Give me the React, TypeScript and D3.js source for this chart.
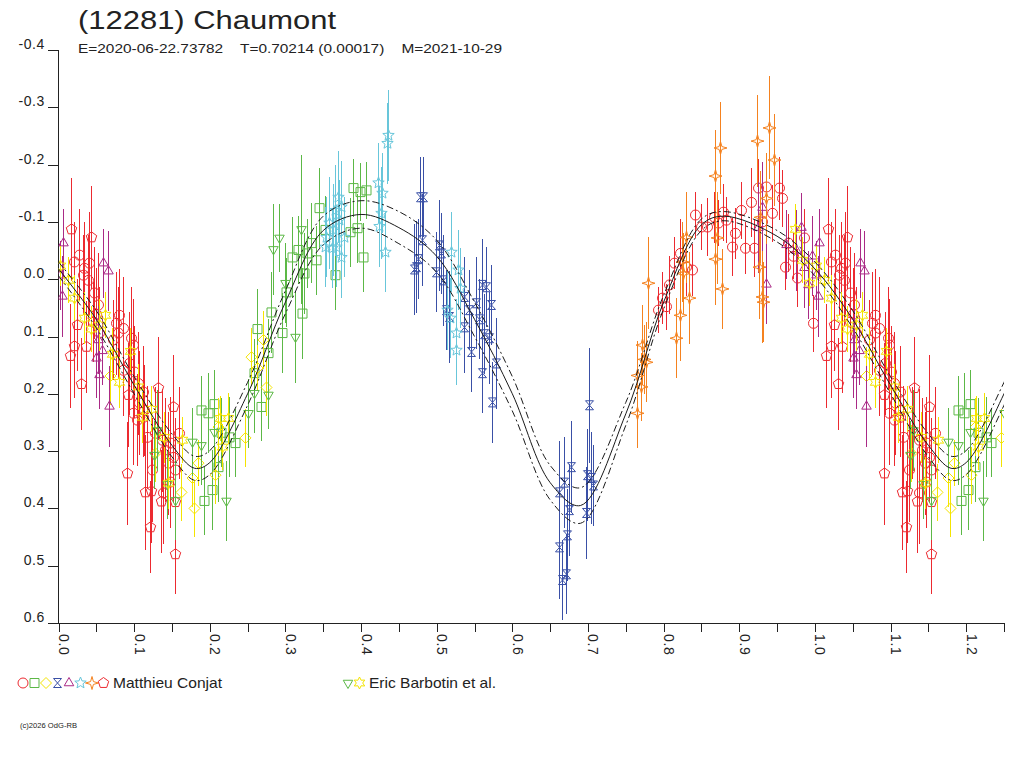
import React, { useEffect, useRef } from "react";
import * as d3 from "d3";

// [phase, reduced magnitude, error]
type Obs = [number, number, number];

const redCircles: Obs[] = [
  [0.792, 0.054, 0.04], [0.798, 0.033, 0.045], [0.803, 0.048, 0.04], [0.807, 0.01, 0.05],
  [0.814, -0.028, 0.045], [0.822, -0.045, 0.06], [0.829, -0.021, 0.05], [0.837, -0.016, 0.045],
  [0.842, -0.112, 0.04], [0.849, -0.091, 0.04], [0.857, -0.091, 0.05], [0.866, -0.108, 0.045],
  [0.872, -0.098, 0.04], [0.879, -0.117, 0.05], [0.883, -0.103, 0.04], [0.89, -0.056, 0.05],
  [0.895, -0.08, 0.045], [0.902, -0.12, 0.05], [0.908, -0.054, 0.045], [0.915, -0.134, 0.06],
  [0.919, -0.054, 0.05], [0.925, -0.159, 0.05], [0.93, -0.1, 0.04], [0.936, -0.161, 0.05],
  [0.943, -0.115, 0.05], [0.952, -0.159, 0.055], [0.956, -0.141, 0.05], [0.961, -0.021, 0.04],
  [0.965, -0.063, 0.05], [0.971, -0.04, 0.04], [0.976, -0.002, 0.05], [0.985, -0.072, 0.05],
  [0.998, 0.077, 0.05],
  [0.021, -0.03, 0.07], [0.027, -0.042, 0.08], [0.032, -0.007, 0.07], [0.034, -0.019, 0.08],
  [0.04, -0.028, 0.09], [0.039, 0.002, 0.08], [0.047, 0.024, 0.08], [0.052, 0.045, 0.09],
  [0.05, 0.061, 0.08], [0.046, 0.075, 0.07], [0.054, 0.094, 0.08], [0.076, 0.077, 0.09],
  [0.08, 0.063, 0.08], [0.085, 0.086, 0.09], [0.079, 0.094, 0.08], [0.072, 0.106, 0.07],
  [0.096, 0.103, 0.09], [0.098, 0.115, 0.08], [0.085, 0.159, 0.08], [0.093, 0.147, 0.09],
  [0.1, 0.162, 0.08], [0.105, 0.182, 0.09], [0.112, 0.197, 0.08], [0.106, 0.216, 0.09],
  [0.113, 0.229, 0.08], [0.098, 0.234, 0.09], [0.104, 0.246, 0.08], [0.112, 0.241, 0.07],
  [0.117, 0.276, 0.09], [0.128, 0.269, 0.08], [0.137, 0.281, 0.09], [0.147, 0.286, 0.08],
  [0.141, 0.298, 0.09], [0.151, 0.311, 0.08], [0.145, 0.321, 0.09], [0.159, 0.269, 0.08],
  [0.138, 0.373, 0.09], [0.147, 0.354, 0.08], [0.154, 0.333, 0.09], [0.124, 0.333, 0.09],
];

const greenSquares: Obs[] = [
  [0.189, 0.229, 0.06], [0.197, 0.234, 0.07], [0.205, 0.218, 0.06], [0.215, 0.268, 0.06],
  [0.226, 0.276, 0.07], [0.233, 0.286, 0.06], [0.211, 0.328, 0.06], [0.203, 0.368, 0.07],
  [0.193, 0.387, 0.06], [0.259, 0.164, 0.06], [0.263, 0.087, 0.07], [0.268, 0.223, 0.06],
  [0.277, 0.129, 0.06], [0.281, 0.058, 0.07], [0.296, 0.094, 0.07], [0.301, 0.023, 0.06],
  [0.309, -0.038, 0.07], [0.316, -0.051, 0.06], [0.322, 0.06, 0.08], [0.325, -0.01, 0.07],
  [0.329, -0.045, 0.06], [0.334, -0.063, 0.07], [0.341, -0.033, 0.06], [0.344, -0.124, 0.07],
  [0.352, -0.086, 0.06], [0.366, -0.007, 0.06], [0.385, -0.082, 0.06], [0.389, -0.159, 0.05],
  [0.398, -0.152, 0.05], [0.406, -0.155, 0.05], [0.394, -0.089, 0.06], [0.402, -0.038, 0.06],
];

const yellowDiamonds: Obs[] = [
  [0.068, 0.169, 0.05], [0.127, 0.304, 0.05], [0.162, 0.372, 0.05], [0.176, 0.347, 0.05],
  [0.179, 0.4, 0.05], [0.184, 0.321, 0.04], [0.207, 0.342, 0.05], [0.211, 0.258, 0.05],
  [0.246, 0.277, 0.05], [0.255, 0.136, 0.05], [0.27, 0.106, 0.05], [0.274, 0.189, 0.05],
  [0.262, 0.155, 0.04],
];

const blueHourglasses: Obs[] = [
  [0.47, -0.017, 0.08], [0.473, -0.021, 0.08], [0.475, -0.035, 0.07], [0.478, -0.143, 0.07],
  [0.482, -0.143, 0.07], [0.481, -0.068, 0.08], [0.499, -0.012, 0.07], [0.503, -0.059, 0.08],
  [0.506, -0.045, 0.07], [0.508, 0.002, 0.08], [0.512, 0.054, 0.07], [0.516, 0.066, 0.08],
  [0.536, 0.031, 0.07], [0.536, 0.084, 0.08], [0.543, 0.054, 0.07], [0.546, 0.127, 0.07],
  [0.552, 0.042, 0.08], [0.556, 0.07, 0.07], [0.56, 0.01, 0.08], [0.563, 0.096, 0.07],
  [0.565, 0.014, 0.07], [0.569, 0.103, 0.08], [0.572, 0.045, 0.07], [0.56, 0.164, 0.07],
  [0.578, 0.147, 0.08], [0.573, 0.215, 0.07], [0.662, 0.372, 0.09], [0.668, 0.355, 0.08],
  [0.677, 0.328, 0.08], [0.675, 0.403, 0.08], [0.672, 0.447, 0.08], [0.662, 0.468, 0.09],
  [0.666, 0.525, 0.07], [0.671, 0.515, 0.07], [0.699, 0.342, 0.08], [0.704, 0.347, 0.08],
  [0.706, 0.36, 0.07], [0.697, 0.408, 0.08], [0.701, 0.22, 0.1],
];

const purpleTriangles: Obs[] = [
  [0.925, -0.09, 0.08], [0.93, -0.125, 0.08], [0.936, 0.009, 0.07], [0.962, -0.06, 0.06],
  [0.975, -0.05, 0.07], [0.982, -0.09, 0.06], [0.986, -0.02, 0.07], [0.991, 0.01, 0.06],
  [0.996, -0.04, 0.07], [0.006, -0.063, 0.06], [0.002, -0.007, 0.06], [0.004, 0.03, 0.07],
  [0.059, -0.028, 0.06], [0.065, -0.014, 0.07], [0.05, 0.138, 0.07], [0.054, 0.167, 0.06],
  [0.067, 0.222, 0.07], [0.052, 0.106, 0.06], [0.058, 0.125, 0.06],
];

const cyanStars: Obs[] = [
  [0.352, -0.056, 0.07], [0.354, -0.073, 0.07], [0.358, -0.098, 0.08], [0.361, -0.054, 0.07],
  [0.363, -0.086, 0.08], [0.365, -0.12, 0.08], [0.367, -0.056, 0.07], [0.369, -0.143, 0.08],
  [0.371, -0.103, 0.07], [0.374, -0.126, 0.08], [0.374, -0.038, 0.07], [0.378, -0.073, 0.07],
  [0.423, -0.168, 0.07], [0.428, -0.15, 0.07], [0.427, -0.115, 0.08], [0.424, -0.092, 0.07],
  [0.431, -0.047, 0.07], [0.435, -0.251, 0.08], [0.434, -0.237, 0.07], [0.519, -0.047, 0.07],
  [0.528, -0.016, 0.07], [0.531, 0.016, 0.07], [0.514, 0.054, 0.07], [0.517, 0.068, 0.07],
  [0.526, 0.094, 0.06], [0.525, 0.124, 0.06],
];

const orangeStars: Obs[] = [
  [0.765, 0.168, 0.06], [0.77, 0.188, 0.06], [0.772, 0.115, 0.07], [0.774, 0.14, 0.06],
  [0.777, 0.145, 0.07], [0.765, 0.234, 0.06], [0.78, 0.007, 0.08], [0.817, 0.103, 0.07],
  [0.822, 0.063, 0.08], [0.824, -0.03, 0.07], [0.826, -0.01, 0.07], [0.829, -0.073, 0.08],
  [0.833, 0.033, 0.08], [0.868, -0.18, 0.08], [0.875, -0.229, 0.08], [0.87, -0.072, 0.08],
  [0.868, -0.035, 0.08], [0.877, 0.017, 0.07], [0.923, -0.241, 0.08], [0.939, -0.264, 0.09],
  [0.946, -0.208, 0.08], [0.935, -0.141, 0.08], [0.928, -0.108, 0.08], [0.926, -0.021, 0.09],
  [0.93, 0.031, 0.08], [0.932, 0.04, 0.07],
];

const redPentagons: Obs[] = [
  [0.017, -0.087, 0.09], [0.043, -0.073, 0.09], [0.025, 0.08, 0.08], [0.021, 0.117, 0.09],
  [0.036, 0.118, 0.08], [0.015, 0.134, 0.09], [0.03, 0.183, 0.08], [0.092, 0.202, 0.09],
  [0.131, 0.19, 0.09], [0.151, 0.223, 0.09], [0.091, 0.339, 0.09], [0.115, 0.372, 0.1],
  [0.121, 0.433, 0.08], [0.135, 0.388, 0.09], [0.154, 0.389, 0.09], [0.154, 0.48, 0.07],
  [0.122, 0.37, 0.09],
];

const greenTriangles: Obs[] = [
  [0.126, 0.307, 0.06], [0.13, 0.264, 0.07], [0.143, 0.358, 0.06], [0.154, 0.386, 0.07],
  [0.176, 0.284, 0.06], [0.189, 0.29, 0.07], [0.205, 0.267, 0.06], [0.222, 0.387, 0.07],
  [0.25, 0.234, 0.06], [0.259, 0.199, 0.07], [0.277, 0.202, 0.06], [0.283, -0.052, 0.08],
  [0.291, -0.072, 0.06], [0.299, 0.007, 0.07], [0.313, 0.101, 0.08], [0.321, -0.087, 0.13],
];

const yellowStars: Obs[] = [
  [0.974, -0.087, 0.045], [0.983, -0.033, 0.04], [0.992, 0.007, 0.04], [0.002, -0.023, 0.035],
  [0.012, 0.002, 0.04], [0.021, 0.033, 0.04], [0.034, 0.068, 0.045], [0.043, 0.087, 0.04],
  [0.054, 0.08, 0.045], [0.062, 0.063, 0.04], [0.071, 0.131, 0.045], [0.094, 0.126, 0.04],
  [0.08, 0.18, 0.045], [0.105, 0.188, 0.04], [0.11, 0.241, 0.045], [0.122, 0.227, 0.04],
  [0.14, 0.276, 0.045], [0.163, 0.281, 0.04], [0.145, 0.356, 0.045], [0.213, 0.243, 0.04],
  [0.224, 0.243, 0.045], [0.216, 0.293, 0.04],
];

// fitted lightcurve, with its uncertainty half-width
const modelPhase = [0, 0.05, 0.1, 0.15, 0.18, 0.2, 0.25, 0.3, 0.35, 0.4, 0.45, 0.5, 0.55, 0.6, 0.65, 0.69, 0.75, 0.8, 0.85, 0.88, 0.95, 1.0];
const modelMag = [-0.018, 0.07, 0.185, 0.29, 0.33, 0.32, 0.2, 0.04, -0.085, -0.113, -0.09, -0.04, 0.07, 0.2, 0.355, 0.395, 0.235, 0.04, -0.095, -0.11, -0.075, -0.018];
const modelSpread = [0.012, 0.015, 0.015, 0.02, 0.021, 0.021, 0.02, 0.02, 0.025, 0.024, 0.028, 0.028, 0.03, 0.03, 0.03, 0.031, 0.02, 0.012, 0.01, 0.008, 0.01, 0.012];

const yTicks = [-0.4, -0.3, -0.2, -0.1, 0.0, 0.1, 0.2, 0.3, 0.4, 0.5, 0.6];
const xMajorTicks = [0, 0.1, 0.2, 0.3, 0.4, 0.5, 0.6, 0.7, 0.8, 0.9, 1.0, 1.1, 1.2];
const xMinorTicks = [0.05, 0.15, 0.25, 0.35, 0.45, 0.55, 0.65, 0.75, 0.85, 0.95, 1.05, 1.15, 1.25];

const title = "(12281) Chaumont";
const subtitle = "E=2020-06-22.73782    T=0.70214 (0.00017)    M=2021-10-29";
const observers = ["Matthieu Conjat", "Eric Barbotin et al."];
const footer = "(c)2026 OdG-RB";

const FONT = "'Liberation Sans', Arial, sans-serif";

function polygon(n: number, r: number, rot = -Math.PI / 2) {
  const pts = d3.range(n).map(i => {
    const a = rot + (i * 2 * Math.PI) / n;
    return `${(r * Math.cos(a)).toFixed(2)},${(r * Math.sin(a)).toFixed(2)}`;
  });
  return "M" + pts.join("L") + "Z";
}

function star(n: number, ro: number, ri: number) {
  const pts = d3.range(2 * n).map(i => {
    const a = -Math.PI / 2 + (i * Math.PI) / n;
    const r = i % 2 === 0 ? ro : ri;
    return `${(r * Math.cos(a)).toFixed(2)},${(r * Math.sin(a)).toFixed(2)}`;
  });
  return "M" + pts.join("L") + "Z";
}

const shapes: Record<string, string> = {
  circle: "M5,0A5,5 0 1,1 -5,0A5,5 0 1,1 5,0Z",
  square: "M-4.5,-4.5H4.5V4.5H-4.5Z",
  diamond: polygon(4, 5.5),
  hourglass: "M-4,-4.5H4L-4,4.5H4Z",
  triangle: polygon(3, 5.5),
  star5: star(5, 6, 2.6),
  star4: star(4, 6.5, 2),
  pentagon: polygon(5, 5.5),
  triDown: polygon(3, 5.5, Math.PI / 2),
  star6: star(6, 6, 3.2),
};

const sessions = [
  { data: redCircles, color: "#ec2a30", shape: "circle", observer: 0 },
  { data: greenSquares, color: "#5cb846", shape: "square", observer: 0 },
  { data: yellowDiamonds, color: "#f4e400", shape: "diamond", observer: 0 },
  { data: blueHourglasses, color: "#3a50a6", shape: "hourglass", observer: 0 },
  { data: purpleTriangles, color: "#aa2a86", shape: "triangle", observer: 0 },
  { data: cyanStars, color: "#68c6da", shape: "star5", observer: 0 },
  { data: orangeStars, color: "#f5821f", shape: "star4", observer: 0 },
  { data: redPentagons, color: "#ec2a30", shape: "pentagon", observer: 0 },
  { data: greenTriangles, color: "#5cb846", shape: "triDown", observer: 1 },
  { data: yellowStars, color: "#f4e400", shape: "star6", observer: 1 },
];

const App: React.FC = () => {
  const ref = useRef<SVGSVGElement | null>(null);

  useEffect(() => {
    if (!ref.current) return;
    const svg = d3.select(ref.current);
    svg.selectAll("*").remove();

    const x = d3.scaleLinear().domain([0, 1.25]).range([58.5, 1004]);
    const y = d3.scaleLinear().domain([-0.4, 0.6]).range([50, 623]);

    svg.append("rect").attr("width", 1024).attr("height", 768).attr("fill", "#fff");

    svg.append("defs").append("clipPath").attr("id", "plot")
      .append("rect").attr("x", x(0)).attr("y", 0).attr("width", x(1.25) - x(0)).attr("height", y(0.6));

    // title block
    svg.append("text").attr("x", 78).attr("y", 29).attr("font-family", FONT).attr("font-size", 26)
      .attr("fill", "#222").attr("textLength", 258).attr("lengthAdjust", "spacingAndGlyphs").text(title);
    svg.append("text").attr("x", 78).attr("y", 53).attr("font-family", FONT).attr("font-size", 13.5)
      .attr("fill", "#222").attr("xml:space", "preserve").style("white-space", "pre")
      .attr("textLength", 424).attr("lengthAdjust", "spacingAndGlyphs").text(subtitle);

    // axes
    const axis = svg.append("g").attr("stroke", "#222").attr("stroke-width", 1).attr("shape-rendering", "crispEdges");
    axis.append("line").attr("x1", 58.5).attr("x2", 58.5).attr("y1", 50).attr("y2", 623);
    axis.append("line").attr("x1", 48).attr("x2", 1004).attr("y1", 623.5).attr("y2", 623.5);
    yTicks.forEach(v => {
      axis.append("line").attr("x1", 48).attr("x2", 58.5).attr("y1", Math.round(y(v)) + 0.5).attr("y2", Math.round(y(v)) + 0.5);
    });
    [...xMajorTicks, ...xMinorTicks].forEach(v => {
      axis.append("line").attr("x1", Math.round(x(v)) + 0.5).attr("x2", Math.round(x(v)) + 0.5).attr("y1", 623).attr("y2", 632);
    });

    yTicks.forEach(v => {
      svg.append("text").attr("x", 45).attr("y", y(v) - 1).attr("text-anchor", "end")
        .attr("font-family", FONT).attr("font-size", 14).attr("fill", "#222").attr("letter-spacing", 0.6)
        .text(v.toFixed(1));
    });
    xMajorTicks.forEach(v => {
      svg.append("text").attr("transform", `translate(${x(v) + 0.5},634) rotate(90)`)
        .attr("font-family", FONT).attr("font-size", 14).attr("fill", "#222").attr("letter-spacing", 0.6)
        .text(v.toFixed(1));
    });

    // observations, folded on phase and repeated past 1.0
    const plot = svg.append("g").attr("clip-path", "url(#plot)");
    sessions.forEach(s => {
      const g = plot.append("g").attr("stroke", s.color).attr("fill", "none").attr("stroke-width", 1);
      s.data.forEach(([p, m, e]) => {
        const phases = p + 1 <= 1.25 ? [p, p + 1] : [p];
        phases.forEach(ph => {
          const px = Math.round(x(ph)) + 0.5;
          g.append("line").attr("x1", px).attr("x2", px).attr("y1", y(m - e)).attr("y2", y(m + e))
            .attr("shape-rendering", "crispEdges");
          g.append("path").attr("d", shapes[s.shape]).attr("transform", `translate(${px},${y(m)})`);
        });
      });
    });

    // fitted model and its envelope
    const knots = modelPhase.map((p, i) => ({ p, m: modelMag[i], s: modelSpread[i] }));
    const ext = [...knots, ...knots.filter(k => k.p > 0 && k.p <= 0.3).map(k => ({ ...k, p: k.p + 1 }))];
    const line = (off: number) => d3.line<{ p: number; m: number; s: number }>()
      .x(d => x(d.p)).y(d => y(d.m + off * d.s)).curve(d3.curveCatmullRom.alpha(0.5))(ext) || "";
    plot.append("path").attr("d", line(0)).attr("fill", "none").attr("stroke", "#1a1a1a").attr("stroke-width", 1);
    [-1, 1].forEach(o => {
      plot.append("path").attr("d", line(o)).attr("fill", "none").attr("stroke", "#1a1a1a")
        .attr("stroke-width", 1).attr("stroke-dasharray", "7,3,2,3");
    });

    // legend
    const legendX = [18, 343];
    observers.forEach((name, oi) => {
      const items = sessions.filter(s => s.observer === oi);
      items.forEach((s, i) => {
        svg.append("path").attr("d", shapes[s.shape]).attr("fill", "none").attr("stroke", s.color)
          .attr("transform", `translate(${legendX[oi] + 5 + i * 11.5},683)`);
      });
      const tx = legendX[oi] + items.length * 11.5 + 3;
      svg.append("text").attr("x", tx).attr("y", 688).attr("font-family", FONT).attr("font-size", 15)
        .attr("fill", "#222").attr("textLength", oi === 0 ? 109 : 127).attr("lengthAdjust", "spacingAndGlyphs")
        .text(name);
    });

    svg.append("text").attr("x", 20).attr("y", 728).attr("font-family", FONT).attr("font-size", 7.5)
      .attr("fill", "#222").attr("textLength", 57).attr("lengthAdjust", "spacingAndGlyphs").text(footer);
  }, []);

  return (
    <svg ref={ref} width={1024} height={768} style={{ position: "absolute", left: 0, top: 0 }} />
  );
};

export default App;
